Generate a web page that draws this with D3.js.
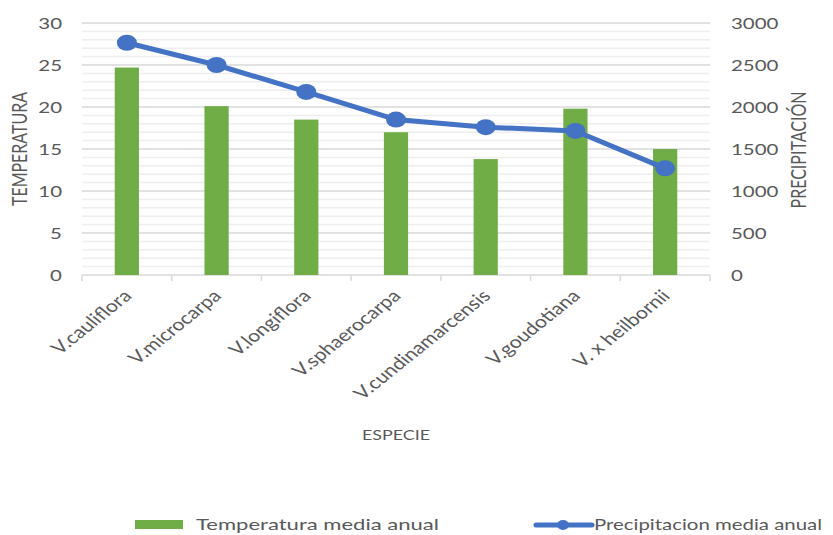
<!DOCTYPE html>
<html>
<head>
<meta charset="utf-8">
<script src="https://cdn.jsdelivr.net/npm/d3@7/dist/d3.min.js"></script>
<style>
  html, body { margin: 0; padding: 0; background: #fff; }
  svg { display: block; }
  text { font-family: Lato, "Open Sans", sans-serif; fill: #595959; }
</style>
</head>
<body>
<svg id="chart" width="833" height="535"></svg>
<script>
// Species and their annual climate means
const species = ["V.cauliflora", "V.microcarpa", "V.longiflora", "V.sphaerocarpa",
                 "V.cundinamarcensis", "V.goudotiana", "V. x heilbornii"];
const temperatura = [24.7, 20.1, 18.5, 17.0, 13.8, 19.8, 15.0];
const precipitacion = [2765, 2500, 2180, 1850, 1760, 1715, 1270];
const tempTicks = [0, 5, 10, 15, 20, 25, 30];
const precTicks = [0, 500, 1000, 1500, 2000, 2500, 3000];

const plot = { left: 82, right: 710, top: 23, bottom: 275 };
const SX = 1.28; // horizontal stretch applied to all text

const svg = d3.select("#chart");

const x = d3.scaleBand().domain(species).range([plot.left, plot.right]).padding(0);
const yL = d3.scaleLinear().domain([0, 30]).range([plot.bottom, plot.top]);
const yR = d3.scaleLinear().domain([0, 3000]).range([plot.bottom, plot.top]);

// Minor gridlines every unit, major every 5
const grid = svg.append("g");
grid.selectAll("line.minor")
  .data(d3.range(1, 30).filter(v => v % 5 !== 0))
  .join("line")
  .attr("x1", plot.left).attr("x2", plot.right)
  .attr("y1", d => yL(d)).attr("y2", d => yL(d))
  .attr("stroke", "#eeeeee").attr("stroke-width", 1.5);
grid.selectAll("line.major")
  .data(tempTicks.filter(v => v > 0))
  .join("line")
  .attr("x1", plot.left).attr("x2", plot.right)
  .attr("y1", d => yL(d)).attr("y2", d => yL(d))
  .attr("stroke", "#d9d9d9").attr("stroke-width", 1.5);

// Category axis: baseline with ticks at band edges
const xAxis = svg.append("g");
xAxis.append("line")
  .attr("x1", plot.left).attr("x2", plot.right)
  .attr("y1", plot.bottom).attr("y2", plot.bottom)
  .attr("stroke", "#d9d9d9").attr("stroke-width", 1.5);
const edges = species.map(s => x(s)).concat([plot.right]);
xAxis.selectAll("line.tick")
  .data(edges)
  .join("line")
  .attr("x1", d => d).attr("x2", d => d)
  .attr("y1", plot.bottom).attr("y2", plot.bottom + 6)
  .attr("stroke", "#d9d9d9").attr("stroke-width", 1.5);

xAxis.selectAll("text.cat")
  .data(species)
  .join("text")
  .attr("text-anchor", "end")
  .attr("font-size", 17)
  .attr("transform", d => `translate(${x(d) + x.bandwidth() / 2 + 6},${plot.bottom + 22}) scale(1.25,1) rotate(-45)`)
  .text(d => d);

// Left and right value axes (labels only)
const leftAxis = d3.axisLeft(yL).tickValues(tempTicks).tickSize(0).tickPadding(0);
const gL = svg.append("g").attr("transform", `translate(${plot.left},0)`).call(leftAxis);
gL.select(".domain").remove();
gL.selectAll(".tick text")
  .attr("x", null).attr("dy", "0.35em")
  .attr("font-size", 16).attr("font-family", null).attr("fill", null)
  .attr("transform", `translate(-20,0) scale(${SX},1)`);

const rightAxis = d3.axisRight(yR).tickValues(precTicks).tickFormat(d3.format("d"))
  .tickSize(0).tickPadding(0);
const gR = svg.append("g").attr("transform", `translate(${plot.right},0)`).call(rightAxis);
gR.select(".domain").remove();
gR.selectAll(".tick text")
  .attr("x", null).attr("dy", "0.35em")
  .attr("font-size", 16).attr("font-family", null).attr("fill", null)
  .attr("transform", `translate(21,0) scale(${SX},1)`);

// Bars: annual mean temperature
const barW = x.bandwidth() * 0.27;
svg.append("g").selectAll("rect")
  .data(species)
  .join("rect")
  .attr("x", d => x(d) + (x.bandwidth() - barW) / 2)
  .attr("width", barW)
  .attr("y", (d, i) => yL(temperatura[i]))
  .attr("height", (d, i) => yL(0) - yL(temperatura[i]))
  .attr("fill", "#70ad47");

// Line: annual mean precipitation
const pts = species.map((s, i) => [x(s) + x.bandwidth() / 2, yR(precipitacion[i])]);
svg.append("path")
  .attr("d", d3.line()(pts))
  .attr("fill", "none").attr("stroke", "#4472c4")
  .attr("stroke-width", 5).attr("stroke-linejoin", "round");
svg.append("g").selectAll("ellipse")
  .data(pts)
  .join("ellipse")
  .attr("cx", d => d[0]).attr("cy", d => d[1])
  .attr("rx", 10).attr("ry", 8)
  .attr("fill", "#4472c4");

// Axis titles
svg.append("text")
  .attr("text-anchor", "middle").attr("font-size", 16)
  .attr("transform", `translate(27,149) scale(${SX},1) rotate(-90)`)
  .text("TEMPERATURA");
svg.append("text")
  .attr("text-anchor", "middle").attr("font-size", 16)
  .attr("transform", `translate(806,150) scale(${SX},1) rotate(-90)`)
  .text("PRECIPITACIÓN");
svg.append("text")
  .attr("text-anchor", "middle").attr("font-size", 14)
  .attr("transform", `translate(396,440) scale(${SX},1)`)
  .text("ESPECIE");

// Legend
const legend = svg.append("g");
legend.append("rect")
  .attr("x", 135).attr("y", 520).attr("width", 48).attr("height", 9)
  .attr("fill", "#70ad47");
legend.append("text")
  .attr("font-size", 16)
  .attr("textLength", 243 / SX).attr("lengthAdjust", "spacingAndGlyphs")
  .attr("transform", `translate(196,530) scale(${SX},1)`)
  .text("Temperatura media anual");
legend.append("line")
  .attr("x1", 536).attr("x2", 592).attr("y1", 525).attr("y2", 525)
  .attr("stroke", "#4472c4").attr("stroke-width", 5).attr("stroke-linecap", "round");
legend.append("ellipse")
  .attr("cx", 563).attr("cy", 525).attr("rx", 6).attr("ry", 5)
  .attr("fill", "#4472c4");
legend.append("text")
  .attr("font-size", 16)
  .attr("textLength", 228 / SX).attr("lengthAdjust", "spacingAndGlyphs")
  .attr("transform", `translate(594,530) scale(${SX},1)`)
  .text("Precipitacion media anual");
</script>
</body>
</html>
